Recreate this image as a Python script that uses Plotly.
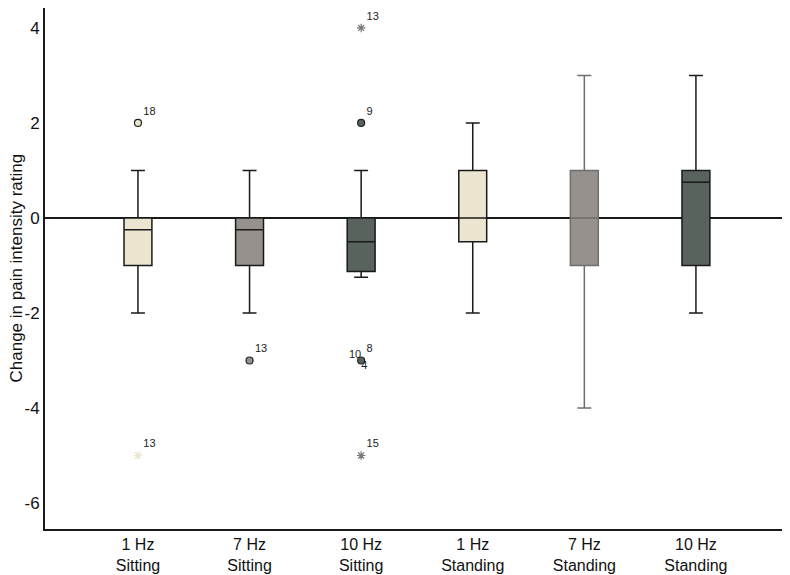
import plotly.graph_objects as go

categories = ["1 Hz<br>Sitting", "7 Hz<br>Sitting", "10 Hz<br>Sitting",
              "1 Hz<br>Standing", "7 Hz<br>Standing", "10 Hz<br>Standing"]
q1 = [-1, -1, -1.125, -0.5, -1, -1]
median = [-0.25, -0.25, -0.5, 0, 0, 0.75]
q3 = [0, 0, 0, 1, 1, 1]
lower_whisker = [-2, -2, -1.25, -2, -4, -2]
upper_whisker = [1, 1, 1, 2, 3, 3]
box_colors = ["#ECE5CF", "#97918E", "#59635D", "#ECE5CF", "#97918E", "#59635D"]
whisker_colors = ["#1a1a1a", "#1a1a1a", "#1a1a1a", "#1a1a1a", "#6e6e6e", "#1a1a1a"]

y_tick_vals = [-6, -4, -2, 0, 2, 4]
y_tick_text = ["-6", "-4", "-2", "0", "2", "4"]

# outliers
out_cat = [0, 0, 1, 2, 2, 2, 2]
out_val = [2, -5, -3, 4, 2, -3, -5]
out_kind = ["circle", "star", "circle", "star", "circle", "circle", "star"]
out_label = ["18", "13", "13", "13", "9", "8", "15"]
extra_labels_cat = [2, 2]
extra_labels_val = [-3, -3]
extra_labels_text = ["10", "4"]
extra_labels_pos = ["top left", "bottom right"]

FONT = "Liberation Sans, Arial, sans-serif"

fig = go.Figure()

for i in range(len(categories)):
    fig.add_trace(go.Box(
        x=[i], q1=[q1[i]], median=[median[i]], q3=[q3[i]],
        lowerfence=[lower_whisker[i]], upperfence=[upper_whisker[i]],
        width=0.25, whiskerwidth=0.5,
        fillcolor=box_colors[i],
        line=dict(color=whisker_colors[i], width=1.5),
        boxpoints=False, showlegend=False, hoverinfo="skip",
    ))

for c, v, k, lab in zip(out_cat, out_val, out_kind, out_label):
    col = box_colors[c]
    if k == "circle":
        marker = dict(symbol="circle", size=7, color=col, line=dict(color="#222", width=1.2))
    else:
        sc = col if c == 0 else "#777"
        marker = dict(symbol="asterisk-open", size=7, color=sc, line=dict(color=sc, width=1.2))
    fig.add_trace(go.Scatter(
        x=[c], y=[v], mode="markers+text", text=[lab], textposition="top right",
        textfont=dict(size=11, color="#222", family=FONT),
        marker=marker, showlegend=False, hoverinfo="skip", cliponaxis=False,
    ))

fig.add_trace(go.Scatter(
    x=extra_labels_cat, y=extra_labels_val, mode="text", text=extra_labels_text,
    textposition=extra_labels_pos,
    textfont=dict(size=11, color="#222", family=FONT),
    showlegend=False, hoverinfo="skip",
))

fig.add_shape(type="line", xref="paper", x0=0, x1=1, yref="y", y0=0, y1=0,
              line=dict(color="#1a1a1a", width=2), layer="below")

fig.add_annotation(
    text="Change in pain intensity rating", textangle=-90,
    xref="paper", yref="paper", x=-29 / 743, y=0.5,
    xanchor="center", yanchor="middle", showarrow=False,
    font=dict(size=17, family=FONT, color="#111"),
)

fig.update_layout(
    width=782, height=567,
    margin=dict(l=37, r=2, t=0, b=46, autoexpand=False),
    paper_bgcolor="white", plot_bgcolor="white",
    font=dict(family=FONT, size=17, color="#111"),
)
fig.update_xaxes(
    range=[-0.833, 5.825], tickvals=list(range(len(categories))), ticktext=categories,
    showline=True, linecolor="#1a1a1a", linewidth=2, showgrid=False, zeroline=False,
    ticks="", tickfont=dict(size=16), automargin=False,
)
fig.update_yaxes(
    range=[-6.547, 4.42], tickvals=y_tick_vals, ticktext=y_tick_text,
    showline=True, linecolor="#1a1a1a", linewidth=2, showgrid=False, zeroline=False,
    ticks="", tickfont=dict(size=17), automargin=False,
)

fig.write_html("out.html")
